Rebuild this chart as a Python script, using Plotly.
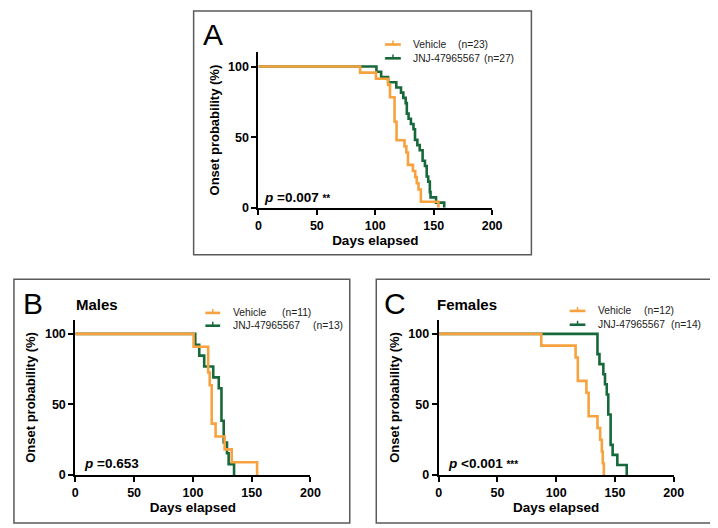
import plotly.graph_objects as go

W, H = 718, 528
ORANGE = "#F7A23E"
GREEN = "#17693B"
FONT = "Liberation Sans, Arial, sans-serif"

# ---------------- data (Kaplan-Meier step points: day of step, % remaining) -------------
# Panel A - all animals
a_vehicle_days = [0, 87, 100.6, 111, 112.6, 116.5, 118.2, 125, 126.6, 128, 132.2, 134.2, 135.5, 137, 139, 154]
a_vehicle_pct = [100, 95.7, 91.3, 87.0, 78.3, 60.9, 47.8, 43.5, 39.1, 30.4, 26.1, 21.7, 17.4, 13.0, 4.3, 0]
a_jnj_days = [0, 101, 105, 111, 118, 122, 124, 126, 127, 128.5, 130.5, 132.7, 134, 136, 138,
              140.5, 142.5, 144, 145.3, 146.7, 147.3, 152, 159]
a_jnj_pct = [100, 96.3, 92.6, 88.9, 85.2, 81.5, 77.8, 74.1, 66.7, 63.0, 59.3, 55.6, 48.1, 44.4, 40.7,
             33.3, 29.6, 22.2, 18.5, 11.1, 7.4, 3.7, 0]
# Panel B - males
b_vehicle_days = [0, 100.6, 113, 114.3, 116, 119.3, 127, 133, 154.6]
b_vehicle_pct = [100, 90.9, 72.7, 63.6, 36.4, 27.3, 18.2, 9.1, 0]
b_jnj_days = [0, 102, 105.4, 109.6, 117.3, 122, 124.3, 126.2, 129, 130.4, 135]
b_jnj_pct = [100, 92.3, 84.6, 76.9, 69.2, 61.5, 38.5, 23.1, 15.4, 7.7, 0]
# Panel C - females
c_vehicle_days = [0, 87.3, 116.5, 118.4, 125.7, 127.6, 135.1, 137.4, 138.8, 139.6, 140.5]
c_vehicle_pct = [100, 91.7, 83.3, 66.7, 58.3, 41.7, 33.3, 25.0, 16.7, 8.3, 0]
c_jnj_days = [0, 135.1, 136.8, 140.1, 141.5, 143, 144.3, 146.3, 148, 152, 160]
c_jnj_pct = [100, 85.7, 78.6, 71.4, 64.3, 57.1, 42.9, 21.4, 14.3, 7.1, 0]

x_ticks = [0, 50, 100, 150, 200]
y_ticks = [0, 50, 100]
series_names = ["Vehicle", "JNJ-47965567"]
a_counts = ["(n=23)", "(n=27)"]
b_counts = ["(n=11)", "(n=13)"]
c_counts = ["(n=12)", "(n=14)"]
p_texts = ["<i>p</i> =0.007 <span style='font-size:10px'>**</span>",
           "<i>p</i> =0.653",
           "<i>p</i> &lt;0.001 <span style='font-size:10px'>***</span>"]
panel_letters = ["A", "B", "C"]
panel_titles = ["", "Males", "Females"]


def px(x):
    return x / W


def py(y):
    return 1 - y / H


fig = go.Figure()

panels = [
    # (axis suffix, data, x px range, y px range(bottom, top))
    ("", a_vehicle_days, a_vehicle_pct, a_jnj_days, a_jnj_pct, (252, 490), (202.5, 45)),
    ("2", b_vehicle_days, b_vehicle_pct, b_jnj_days, b_jnj_pct, (65.5, 305), (473.3, 316)),
    ("3", c_vehicle_days, c_vehicle_pct, c_jnj_days, c_jnj_pct, (435.5, 675), (473.3, 316)),
]

layout_axes = {}
for suf, vd, vp, jd, jp, (x0, x1), (yb, yt) in panels:
    xa = "x" + suf
    ya = "y" + suf
    fig.add_trace(go.Scatter(x=jd, y=jp, mode="lines", line=dict(color=GREEN, width=2.6, shape="hv"),
                             xaxis=xa, yaxis=ya, showlegend=False, name="JNJ-47965567"))
    fig.add_trace(go.Scatter(x=vd, y=vp, mode="lines", line=dict(color=ORANGE, width=2.6, shape="hv"),
                             xaxis=xa, yaxis=ya, showlegend=False, name="Vehicle"))
    common = dict(showline=True, linecolor="black", linewidth=2, ticks="outside", ticklen=5,
                  tickwidth=2, tickcolor="black", showgrid=False, zeroline=False,
                  tickfont=dict(family=FONT, size=12.5, color="black", weight="bold"))
    layout_axes["xaxis" + suf] = dict(common, domain=[px(x0), px(x1)], range=[0, 200],
                                      tickvals=x_ticks, anchor=ya,
                                      title=dict(text="Days elapsed", standoff=4,
                                                 font=dict(family=FONT, size=13.5, color="black", weight="bold")))
    layout_axes["yaxis" + suf] = dict(common, domain=[py(yb), py(yt)], range=[0, 110],
                                      tickvals=y_ticks, anchor=xa,
                                      title=dict(text="Onset probability (%)", standoff=6,
                                                 font=dict(family=FONT, size=13, color="black", weight="bold")))

fig.update_layout(**layout_axes)

shapes = []
annotations = []

# panel frames
frames = [(186, 3, 530, 250), (3, 275, 345, 522), (372, 275, 715, 522)]
for (l, t, r, b) in frames:
    shapes.append(dict(type="rect", xref="paper", yref="paper", x0=px(l), x1=px(r), y0=py(b), y1=py(t),
                       line=dict(color="#5a5a5a", width=1.5)))

# panel letters and titles
letter_pos = [(194, 27), (10, 299), (378, 299)]
title_pos = [(0, 0), (64, 300), (432, 300)]
for i in range(3):
    annotations.append(dict(text=panel_letters[i], x=px(letter_pos[i][0]), y=py(letter_pos[i][1]),
                            xref="paper", yref="paper", xanchor="left", yanchor="middle", showarrow=False,
                            font=dict(family=FONT, size=30, color="black")))
    if panel_titles[i]:
        annotations.append(dict(text="<b>" + panel_titles[i] + "</b>", x=px(title_pos[i][0]),
                                y=py(title_pos[i][1]), xref="paper", yref="paper", xanchor="left",
                                yanchor="middle", showarrow=False,
                                font=dict(family=FONT, size=15, color="black")))

# p-values
p_pos = [(256, 192), (72, 462), (443, 462)]
for i in range(3):
    annotations.append(dict(text="<b>" + p_texts[i] + "</b>", x=px(p_pos[i][0]), y=py(p_pos[i][1]),
                            xref="paper", yref="paper", xanchor="left", yanchor="middle", showarrow=False,
                            font=dict(family=FONT, size=13.5, color="black")))

# legends (drawn manually)
legends = [
    # line x0, x1, row ys, text x, count x, counts
    (381, 397, (37, 51), 407, (453, 480), a_counts),
    (198, 213, (309, 322), 224, (274, 306), b_counts),
    (569, 585, (307, 321), 596, (643, 670), c_counts),
]
colors = [ORANGE, GREEN]
for (lx0, lx1, ys, tx, cxs, counts) in legends:
    for k in range(2):
        yy = ys[k]
        shapes.append(dict(type="line", xref="paper", yref="paper", x0=px(lx0), x1=px(lx1),
                           y0=py(yy), y1=py(yy), line=dict(color=colors[k], width=2.6)))
        xm = (lx0 + lx1) / 2
        shapes.append(dict(type="line", xref="paper", yref="paper", x0=px(xm), x1=px(xm),
                           y0=py(yy), y1=py(yy - 4), line=dict(color=colors[k], width=1.5)))
        annotations.append(dict(text=series_names[k], x=px(tx), y=py(yy), xref="paper", yref="paper",
                                xanchor="left", yanchor="middle", showarrow=False,
                                font=dict(family=FONT, size=10.3, color="#222")))
        annotations.append(dict(text=counts[k], x=px(cxs[k]), y=py(yy), xref="paper", yref="paper",
                                xanchor="left", yanchor="middle", showarrow=False,
                                font=dict(family=FONT, size=10.3, color="#222")))

fig.update_layout(width=W, height=H, margin=dict(l=0, r=0, t=0, b=0),
                  paper_bgcolor="white", plot_bgcolor="white",
                  shapes=shapes, annotations=annotations, showlegend=False,
                  font=dict(family=FONT, color="black"))

fig.write_html("out.html")
